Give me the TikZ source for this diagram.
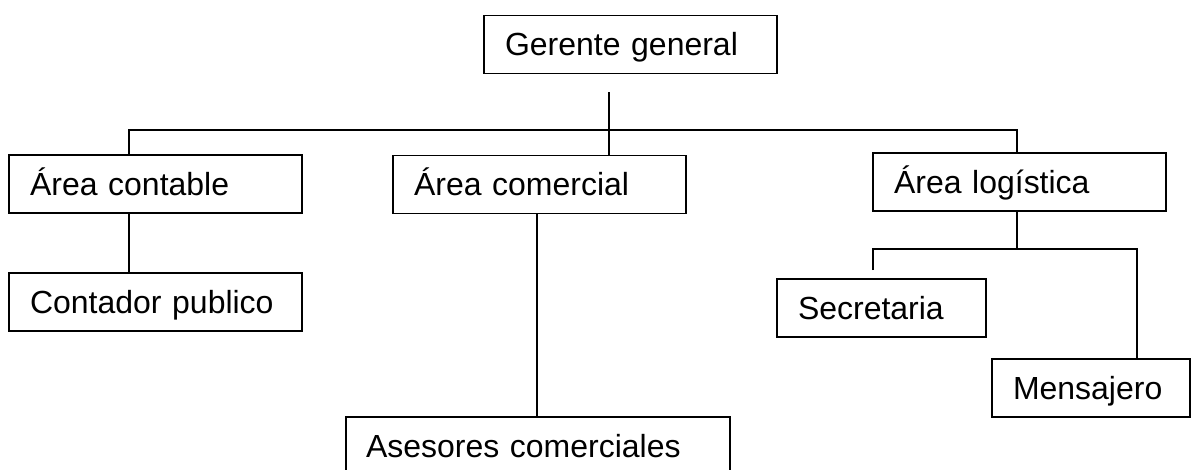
\documentclass[tikz,border=0pt]{standalone}
\usepackage{fontspec}
\setmainfont{Liberation Sans}
\usetikzlibrary{positioning}
\tikzstyle{puesto} = [rectangle, draw=black, line width=1.1pt, minimum height=1.16cm, inner xsep=0.42cm, inner ysep=0pt, text height=12.9pt, text depth=0pt, align=left, font=\fontsize{18.2}{21}\selectfont]
\tikzstyle{linea} = [line width=1.1pt]

\begin{document}
\begin{tikzpicture}[x=0.02cm, y=-0.02cm]
    \useasboundingbox (0,0) rectangle (1191,470);
    \clip (0,0) rectangle (1191,470);

    \node (gerente) [puesto, text width=5.02cm] at (630.5,44.5) {Gerente general};
    \node (contable) [puesto, text width=5.02cm] at (155.5,184) {Área contable};
    \node (comercial) [puesto, text width=5.02cm] at (539.5,184.5) {Área comercial};
    \node (logistica) [puesto, text width=5.02cm] at (1019.5,182) {Área logística};
    \node (contador) [puesto, text width=5.02cm, below=1.16cm of contable] {Contador publico};
    \node (asesores) [puesto, text width=6.88cm, inner xsep=0.4cm] at (538,446) {Asesores comerciales};
    \node (secretaria) [puesto, text width=3.34cm] at (881.5,308) {Secretaria};
    \node (mensajero) [puesto, text width=3.12cm] at (1091,388) {Mensajero};

    \coordinate (bajada) at (609,92);
    \coordinate (izq) at (129,130);
    \coordinate (der) at (1017,130);
    \coordinate (medio) at (537,213);
    \coordinate (nudo) at (1017,249);
    \coordinate (secr) at (873,270);
    \coordinate (mens) at (1137,249);

    \draw[linea] (bajada) -- (bajada |- comercial.north);
    \draw[linea] (contable.north -| izq) |- (der) -- (logistica.north -| der);
    \draw[linea] (contable.south -| izq) -- (contador.north -| izq);
    \draw[linea] (comercial.south -| medio) -- (asesores.north -| medio);
    \draw[linea] (logistica.south -| nudo) -- (nudo);
    \draw[linea] (secr) |- (mens) -- (mens |- mensajero.north);

\end{tikzpicture}
\end{document}
